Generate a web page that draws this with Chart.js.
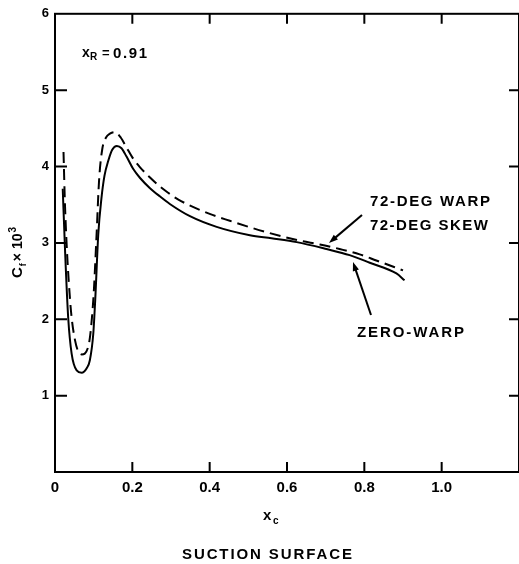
<!DOCTYPE html>
<html>
<head>
<meta charset="utf-8">
<script src="https://cdn.jsdelivr.net/npm/chart.js@4.4.1/dist/chart.umd.min.js"></script>
<style>
  html, body { margin: 0; padding: 0; background: #fff; }
  #cf { display: block; }
</style>
</head>
<body>
<canvas id="cf" width="519" height="564"></canvas>
<script>
// zero-warp, solid line
const zeroWarpX = [0.020, 0.026, 0.034, 0.043, 0.056, 0.069, 0.082, 0.090, 0.099, 0.104, 0.112, 0.120, 0.128, 0.138, 0.148, 0.160, 0.172, 0.185, 0.202, 0.220, 0.245, 0.271, 0.297, 0.349, 0.418, 0.504, 0.560, 0.625, 0.702, 0.762, 0.814, 0.883, 0.904];
const zeroWarpY = [3.71, 2.90, 2.03, 1.55, 1.33, 1.30, 1.36, 1.46, 1.81, 2.25, 3.12, 3.58, 3.88, 4.08, 4.22, 4.27, 4.24, 4.13, 3.97, 3.85, 3.72, 3.61, 3.51, 3.35, 3.21, 3.10, 3.06, 3.01, 2.92, 2.84, 2.74, 2.60, 2.51];

// 72-deg warp / 72-deg skew, dashed line
const warpX = [0.022, 0.026, 0.039, 0.052, 0.069, 0.086, 0.099, 0.107, 0.114, 0.122, 0.132, 0.142, 0.155, 0.170, 0.185, 0.200, 0.220, 0.245, 0.271, 0.289, 0.318, 0.400, 0.452, 0.547, 0.633, 0.685, 0.736, 0.788, 0.831, 0.900];
const warpY = [4.19, 3.47, 2.25, 1.72, 1.54, 1.64, 2.25, 3.05, 3.82, 4.22, 4.38, 4.43, 4.45, 4.38, 4.25, 4.12, 3.99, 3.86, 3.74, 3.67, 3.57, 3.38, 3.29, 3.14, 3.03, 2.98, 2.92, 2.85, 2.77, 2.64];

const xTicks = [0, 0.2, 0.4, 0.6, 0.8, 1.0];
const yTicks = [1, 2, 3, 4, 5, 6];

const FONT = '"Liberation Sans", Arial, sans-serif';

function pts(xs, ys) {
  return xs.map((x, i) => ({ x: x, y: ys[i] }));
}

// draws text at left x / baseline y, stretched to a target width by letter spacing
function fitText(ctx, str, x, y, size, width) {
  ctx.font = 'bold ' + size + 'px ' + FONT;
  ctx.letterSpacing = '0px';
  const w = ctx.measureText(str).width;
  const sp = width ? Math.max(0, (width - w) / Math.max(1, str.length - 1)) : 0;
  ctx.letterSpacing = sp.toFixed(2) + 'px';
  ctx.textAlign = 'left';
  ctx.textBaseline = 'alphabetic';
  ctx.fillText(str, x, y);
  ctx.letterSpacing = '0px';
}

function arrow(ctx, x1, y1, x2, y2) {
  const a = Math.atan2(y2 - y1, x2 - x1);
  ctx.beginPath();
  ctx.moveTo(x1, y1);
  ctx.lineTo(x2 - 6 * Math.cos(a), y2 - 6 * Math.sin(a));
  ctx.lineWidth = 2;
  ctx.stroke();
  ctx.beginPath();
  ctx.moveTo(x2, y2);
  ctx.lineTo(x2 - 9 * Math.cos(a) + 3.2 * Math.sin(a), y2 - 9 * Math.sin(a) - 3.2 * Math.cos(a));
  ctx.lineTo(x2 - 9 * Math.cos(a) - 3.2 * Math.sin(a), y2 - 9 * Math.sin(a) + 3.2 * Math.cos(a));
  ctx.closePath();
  ctx.fill();
}

const frame = {
  id: 'frame',
  afterDraw(chart) {
    const ctx = chart.ctx;
    const a = chart.chartArea;
    const xs = chart.scales.x, ys = chart.scales.y;
    ctx.save();
    ctx.strokeStyle = '#000';
    ctx.fillStyle = '#000';
    ctx.lineWidth = 2;
    ctx.strokeRect(a.left, a.top, a.right - a.left, a.bottom - a.top);

    // inward tick marks on all four sides
    ctx.beginPath();
    xTicks.forEach(v => {
      if (v === 0) return;
      const px = xs.getPixelForValue(v);
      ctx.moveTo(px, a.bottom); ctx.lineTo(px, a.bottom - 10);
      ctx.moveTo(px, a.top); ctx.lineTo(px, a.top + 10);
    });
    yTicks.forEach(v => {
      if (v === 6) return;
      const py = ys.getPixelForValue(v);
      ctx.moveTo(a.left, py); ctx.lineTo(a.left + 12, py);
      ctx.moveTo(a.right, py); ctx.lineTo(a.right - 10, py);
    });
    ctx.stroke();

    // axis titles
    ctx.save();
    ctx.translate(22, 278);
    ctx.rotate(-Math.PI / 2);
    ctx.font = 'bold 15px ' + FONT;
    ctx.textBaseline = 'alphabetic';
    ctx.fillText('C', 0, 0);
    let cx = ctx.measureText('C').width;
    ctx.font = 'bold 9px ' + FONT;
    ctx.fillText('f', cx + 1, 4);
    cx += ctx.measureText('f').width + 3;
    ctx.font = 'bold 14px ' + FONT;
    ctx.fillText('\u00d7 10', cx, 0);
    cx += ctx.measureText('\u00d7 10').width + 1;
    ctx.font = 'bold 10px ' + FONT;
    ctx.fillText('3', cx, -6);
    ctx.restore();

    fitText(ctx, 'x', 263, 520, 15, 0);
    fitText(ctx, 'c', 273, 524, 10, 0);
    fitText(ctx, 'SUCTION SURFACE', 182, 559, 15, 170);

    // x_R label
    fitText(ctx, 'x', 82, 57, 14, 0);
    fitText(ctx, 'R', 90, 60, 10, 0);
    fitText(ctx, '=', 102, 57, 13, 0);
    fitText(ctx, '0.91', 113, 58, 15, 34);

    // curve annotations
    fitText(ctx, '72-DEG WARP', 370, 206, 15, 120);
    fitText(ctx, '72-DEG SKEW', 370, 230, 15, 118);
    fitText(ctx, 'ZERO-WARP', 357, 337, 15, 107);
    arrow(ctx, 362, 215, 329, 243);
    arrow(ctx, 371, 315, 353, 262);
    ctx.restore();
  }
};

new Chart(document.getElementById('cf'), {
  type: 'line',
  data: {
    datasets: [
      {
        label: 'ZERO-WARP',
        data: pts(zeroWarpX, zeroWarpY),
        borderColor: '#000',
        borderWidth: 2,
        cubicInterpolationMode: 'monotone',
        pointRadius: 0,
        fill: false
      },
      {
        label: '72-DEG WARP 72-DEG SKEW',
        data: pts(warpX, warpY),
        borderColor: '#000',
        borderWidth: 2,
        borderDash: [11, 6],
        cubicInterpolationMode: 'monotone',
        pointRadius: 0,
        fill: false
      }
    ]
  },
  options: {
    responsive: false,
    animation: false,
    layout: { padding: { top: 13, right: 0, left: 0, bottom: 0 } },
    plugins: {
      legend: { display: false },
      tooltip: { enabled: false }
    },
    scales: {
      x: {
        type: 'linear',
        min: 0,
        max: 1.2,
        afterFit: s => { s.height = 92; },
        afterBuildTicks: s => { s.ticks = xTicks.map(v => ({ value: v })); },
        grid: { display: false, drawTicks: false },
        border: { display: false },
        ticks: {
          color: '#000',
          padding: 7,
          font: { family: FONT, size: 15, weight: 'bold' },
          callback: v => v === 0 ? '0' : v.toFixed(1)
        }
      },
      y: {
        type: 'linear',
        min: 0,
        max: 6,
        afterFit: s => { s.width = 55; },
        afterBuildTicks: s => { s.ticks = yTicks.map(v => ({ value: v })); },
        grid: { display: false, drawTicks: false },
        border: { display: false },
        ticks: {
          color: '#000',
          padding: 6,
          font: { family: FONT, size: 13, weight: 'bold' },
          callback: v => String(v)
        }
      }
    }
  },
  plugins: [frame]
});
</script>
</body>
</html>
